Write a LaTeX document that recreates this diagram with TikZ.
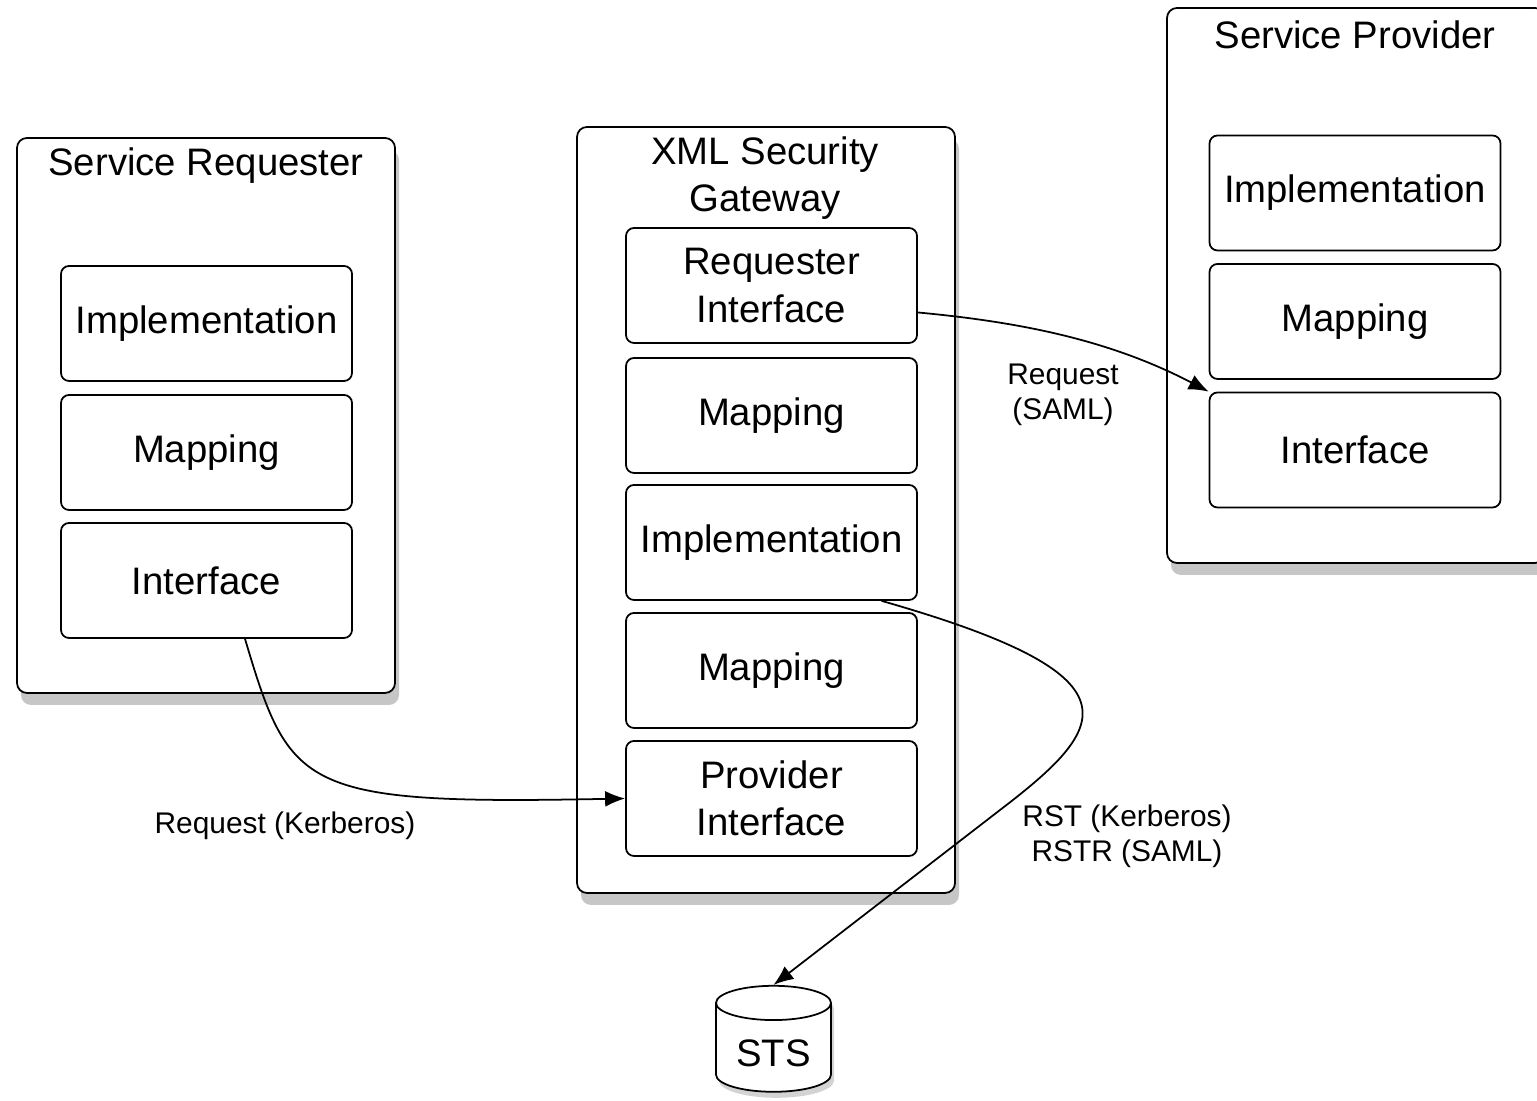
\documentclass[tikz,border=0pt]{standalone}
\usepackage{fontspec}
\setmainfont{Liberation Sans}
\usetikzlibrary{shapes.geometric,shadows,arrows.meta,calc}
\tikzset{
  outerbox/.style={draw, line width=0.5pt, fill=white, rounded corners=1mm,
    minimum width=3.78cm, inner sep=0pt,
    drop shadow={shadow xshift=0.4mm, shadow yshift=-1.2mm, opacity=0.45}},
  part/.style={draw, line width=0.5pt, fill=white, rounded corners=0.8mm,
    minimum width=2.91cm, minimum height=1.15cm, align=center,
    font=\fontsize{10.9}{13.4}\selectfont},
  title/.style={align=center, font=\fontsize{10.9}{13.4}\selectfont},
  msg/.style={align=center, font=\fontsize{8.5}{10}\selectfont},
  flow/.style={-{Latex[length=2mm,width=1.6mm]}, line width=0.5pt},
}
\begin{document}
\begin{tikzpicture}
\clip (0,0) rectangle (15.37,11.01);
%
\node[outerbox, minimum height=5.55cm](reqbox) at (2.06,6.855) {};
\node[title](reqtitle) at (2.06,9.35) {Service Requester};
\node[part](reqimpl) at (2.065,7.775) {Implementation};
\node[part](reqmap) at (2.065,6.485) {Mapping};
\node[part](reqif) at (2.065,5.205) {Interface};
%
\node[outerbox, minimum height=7.66cm](gwbox) at (7.66,5.91) {};
\node[title](gwtitle) at (7.65,9.225) {XML Security\\Gateway};
\node[part](gwreqif) at (7.715,8.155) {Requester\\Interface};
\node[part](gwmap) at (7.715,6.855) {Mapping};
\node[part](gwimpl) at (7.715,5.585) {Implementation};
\node[part](gwmap2) at (7.715,4.305) {Mapping};
\node[part](gwprovif) at (7.715,3.025) {Provider\\Interface};
%
\node[outerbox, minimum height=5.55cm](provbox) at (13.56,8.155) {};
\node[title](provtitle) at (13.55,10.66) {Service Provider};
\node[part](provimpl) at (13.55,9.08) {Implementation};
\node[part](provmap) at (13.55,7.795) {Mapping};
\node[part](provif) at (13.55,6.51) {Interface};
%
\node[cylinder, shape border rotate=90, draw, line width=0.5pt, fill=white,
  aspect=0.35, minimum width=1.15cm, minimum height=1.06cm,
  font=\fontsize{10.9}{13.4}\selectfont,
  drop shadow={shadow xshift=0.3mm, shadow yshift=-0.6mm, opacity=0.35}](sts) at (7.735,0.48) {STS};
%
\draw[flow]([xshift=0.385cm]reqif.south) .. controls (2.90,3.11) and (3.00,2.96) .. (gwprovif.west);
\node[msg](kerb) at (2.85,2.75) {Request (Kerberos)};
%
\draw[flow]([yshift=-0.27cm]gwreqif.east) .. controls (10.2,7.79) and (11.1,7.61) .. (provif.north west);
\node[msg](saml) at (10.63,7.06) {Request\\(SAML)};
%
\draw[flow]([xshift=1.1cm]gwimpl.south) .. controls (11.45,4.25) and (11.10,3.75) .. (10.00,2.91) -- (sts.north);
\node[msg](rst) at (11.27,2.65) {RST (Kerberos)\\RSTR (SAML)};
\end{tikzpicture}
\end{document}
